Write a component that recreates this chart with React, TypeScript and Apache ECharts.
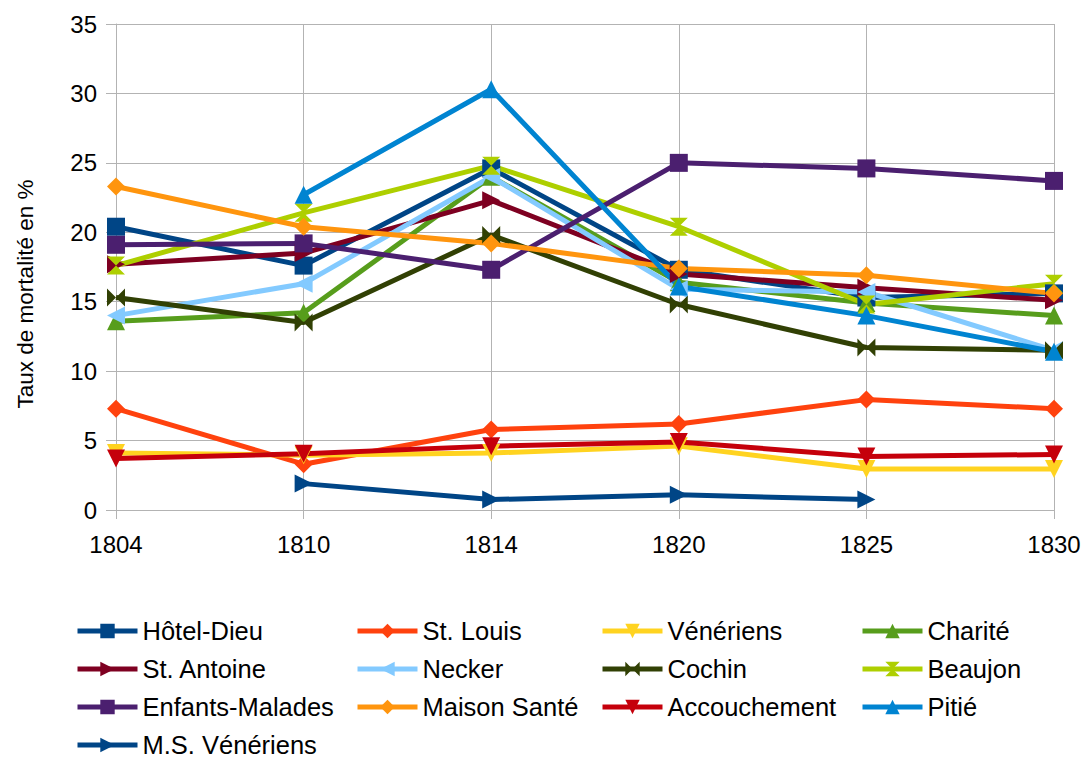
import React, { useEffect, useRef } from "react";
import * as echarts from "echarts";

const years = ["1804", "1810", "1814", "1820", "1825", "1830"];
const yTicks = [0, 5, 10, 15, 20, 25, 30, 35];

const hotelDieu = [20.4, 17.6, 24.6, 17.3, 15.3, 15.6];
const stLouis = [7.3, 3.3, 5.8, 6.2, 7.95, 7.3];
const veneriens = [4.1, 3.95, 4.1, 4.6, 2.95, 2.95];
const charite = [13.6, 14.2, 24.0, 16.4, 14.9, 14.0];
const stAntoine = [17.7, 18.5, 22.3, 17.0, 16.0, 15.1];
const necker = [14.0, 16.3, 24.0, 15.9, 15.7, 11.5];
const cochin = [15.3, 13.5, 19.8, 14.8, 11.7, 11.5];
const beaujon = [17.6, 21.4, 24.8, 20.4, 14.8, 16.3];
const enfantsMalades = [19.1, 19.2, 17.3, 25.0, 24.6, 23.7];
const maisonSante = [23.3, 20.4, 19.2, 17.4, 16.9, 15.6];
const accouchement = [3.7, 4.05, 4.6, 4.9, 3.85, 4.0];
const pitie = [null, 22.7, 30.3, 16.1, 14.0, 11.4];
const msVeneriens = [null, 1.9, 0.75, 1.1, 0.75, null];

const SQ = "rect";
const DIA = "diamond";
const DOWN = "path://M0,0 L10,0 L5,10 Z";
const UP = "path://M5,0 L10,10 L0,10 Z";
const RIGHT = "path://M0,0 L10,5 L0,10 Z";
const LEFT = "path://M10,0 L10,10 L0,5 Z";
const BOWTIE = "path://M0,0 L10,5 L0,10 Z M20,0 L20,10 L10,5 Z";
const HOURGLASS = "path://M0,0 L10,0 L5,5 Z M0,10 L10,10 L5,5 Z";

const seriesDefs = [
  { name: "Hôtel-Dieu", data: hotelDieu, color: "#004586", symbol: SQ },
  { name: "St. Louis", data: stLouis, color: "#ff420e", symbol: DIA },
  { name: "Vénériens", data: veneriens, color: "#ffd320", symbol: DOWN },
  { name: "Charité", data: charite, color: "#579d1c", symbol: UP },
  { name: "St. Antoine", data: stAntoine, color: "#7e0021", symbol: RIGHT },
  { name: "Necker", data: necker, color: "#83caff", symbol: LEFT },
  { name: "Cochin", data: cochin, color: "#314004", symbol: BOWTIE },
  { name: "Beaujon", data: beaujon, color: "#aecf00", symbol: HOURGLASS },
  { name: "Enfants-Malades", data: enfantsMalades, color: "#4b1f6f", symbol: SQ },
  { name: "Maison Santé", data: maisonSante, color: "#ff950e", symbol: DIA },
  { name: "Accouchement", data: accouchement, color: "#c5000b", symbol: DOWN },
  { name: "Pitié", data: pitie, color: "#0084d1", symbol: UP },
  { name: "M.S. Vénériens", data: msVeneriens, color: "#004586", symbol: RIGHT },
];

const legendCols = [
  { left: 75, names: ["Hôtel-Dieu", "St. Antoine", "Enfants-Malades", "M.S. Vénériens"] },
  { left: 355, names: ["St. Louis", "Necker", "Maison Santé"] },
  { left: 600, names: ["Vénériens", "Cochin", "Accouchement"] },
  { left: 860, names: ["Charité", "Beaujon", "Pitié"] },
];

const FONT = '"Liberation Sans", Arial, sans-serif';

export default function App() {
  const ref = useRef<HTMLDivElement>(null);
  useEffect(() => {
    document.body.style.margin = "0";
    const chart = echarts.init(ref.current!, undefined, { renderer: "svg" });
    chart.setOption({
      animation: false,
      backgroundColor: "#ffffff",
      textStyle: { fontFamily: FONT },
      grid: { left: 116, right: 31, top: 24, bottom: 250, containLabel: false },
      xAxis: {
        type: "category",
        data: years,
        boundaryGap: false,
        axisLine: { lineStyle: { color: "#b3b3b3", width: 1 } },
        axisTick: { show: true, length: 9, lineStyle: { color: "#b3b3b3" } },
        axisLabel: { color: "#000", fontSize: 24, margin: 22, fontFamily: FONT },
        splitLine: { show: true, lineStyle: { color: "#b3b3b3", width: 1 } },
      },
      yAxis: {
        type: "value",
        min: yTicks[0],
        max: yTicks[yTicks.length - 1],
        interval: 5,
        axisLine: { show: true, lineStyle: { color: "#b3b3b3", width: 1 } },
        axisTick: { show: true, length: 10, lineStyle: { color: "#b3b3b3" } },
        axisLabel: { color: "#000", fontSize: 24, margin: 19, fontFamily: FONT },
        splitLine: { show: true, lineStyle: { color: "#b3b3b3", width: 1 } },
      },
      legend: legendCols.map((c) => ({
        type: "plain",
        orient: "vertical",
        left: c.left,
        top: 618,
        height: 220,
        padding: 0,
        itemWidth: 60,
        itemHeight: 18,
        itemGap: 12,
        itemTextGap: 8,
        lineStyle: { width: 5 },
        data: c.names,
        textStyle: { color: "#000", fontSize: 25.5, fontFamily: FONT, padding: [0, 0, 0, 0] },
      })),
      graphic: [
        {
          type: "text",
          x: 25,
          y: 294,
          rotation: Math.PI / 2,
          style: {
            text: "Taux de mortalité en %",
            font: "22.5px " + FONT,
            fill: "#000",
            align: "center",
            verticalAlign: "middle",
            textAlign: "center",
            textVerticalAlign: "middle",
          },
        },
      ],
      series: seriesDefs.map((s) => ({
        name: s.name,
        type: "line",
        data: s.data,
        symbol: s.symbol,
        symbolSize: 18,
        showAllSymbol: true,
        itemStyle: { color: s.color },
        lineStyle: { color: s.color, width: 5 },
        emphasis: { disabled: true },
      })),
    });
    return () => chart.dispose();
  }, []);
  return <div ref={ref} style={{ width: 1085, height: 760 }} />;
}
